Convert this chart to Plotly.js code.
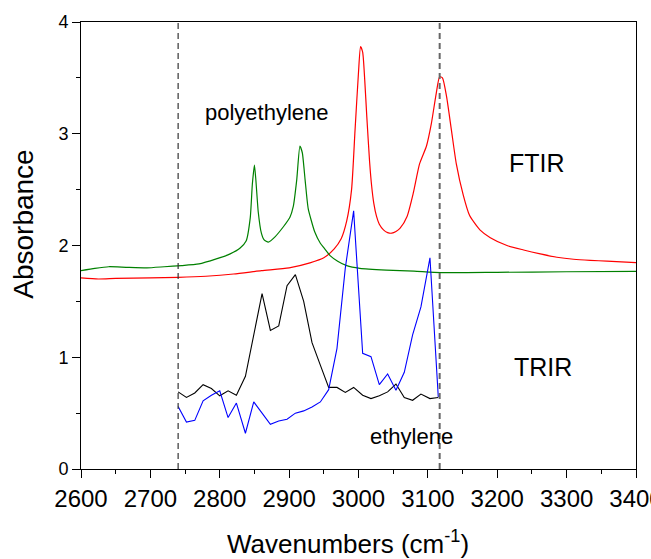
<!DOCTYPE html>
<html>
<head>
<meta charset="utf-8">
<script src="https://cdn.plot.ly/plotly-3.0.1.min.js"></script>
<style>html,body{margin:0;padding:0;background:#fff;}#chart{width:651px;height:559px;}</style>
</head>
<body>
<div id="chart"></div>
<script>
// FTIR ethylene (red)
const redX = [2600,2625,2650,2700,2740,2780,2820,2860,2900,2930,2950,2965,2975,2983,2990,2995,3000,3003,3006,3009,3012,3016,3019,3022,3026,3030,3036,3042,3048,3054,3060,3070,3079,3088,3098,3105,3112,3117,3121,3127,3134,3141,3151,3160,3175,3190,3214,3238,3262,3286,3310,3334,3358,3400];
const redY = [1.71,1.70,1.705,1.71,1.715,1.725,1.745,1.775,1.80,1.845,1.89,1.97,2.06,2.22,2.50,3.03,3.55,3.78,3.73,3.48,3.15,2.75,2.53,2.38,2.26,2.19,2.14,2.115,2.11,2.125,2.155,2.26,2.47,2.73,2.89,3.09,3.36,3.51,3.50,3.33,3.03,2.73,2.45,2.27,2.14,2.07,2.00,1.96,1.925,1.895,1.877,1.867,1.86,1.846];

// FTIR polyethylene (green)
const greenX = [2600,2620,2640,2665,2695,2720,2745,2770,2795,2815,2829,2838,2844,2847,2850,2852,2855.5,2860,2864,2870,2880,2892,2901,2906,2911,2915.5,2919,2923,2927.5,2937,2945,2950,2959,2970,2983,3002,3040,3080,3118,3200,3300,3400];
const greenY = [1.775,1.795,1.81,1.805,1.80,1.81,1.82,1.835,1.88,1.925,1.975,2.04,2.25,2.55,2.72,2.59,2.30,2.11,2.05,2.03,2.08,2.17,2.25,2.35,2.59,2.89,2.83,2.59,2.33,2.12,2.02,1.98,1.91,1.86,1.82,1.796,1.78,1.77,1.757,1.76,1.765,1.768];

// TRIR (black: polyethylene, blue: ethylene)
const trirX = [2740,2752,2764,2776,2788,2800,2812,2824,2837,2849,2861,2873,2885,2897,2909,2921,2933,2945,2957,2969,2981,2993,3006,3018,3030,3042,3054,3066,3078,3090,3103,3115];
const blackY = [0.69,0.64,0.68,0.755,0.72,0.655,0.70,0.66,0.83,1.19,1.57,1.24,1.28,1.64,1.74,1.50,1.13,0.93,0.73,0.73,0.685,0.73,0.66,0.63,0.655,0.69,0.76,0.64,0.615,0.67,0.63,0.64];
const blueY = [0.56,0.42,0.435,0.61,0.66,0.70,0.46,0.59,0.32,0.60,0.50,0.40,0.43,0.445,0.50,0.52,0.555,0.60,0.71,1.08,1.80,2.31,1.035,1.005,0.755,0.85,0.705,0.865,1.20,1.45,1.89,0.645];

const markerLinesX = [2740, 3117];
const xTicks = [2600,2700,2800,2900,3000,3100,3200,3300,3400];

const traces = [
  {x: redX, y: redY, mode: 'lines', line: {color: '#ff0000', width: 1.2, shape: 'spline', smoothing: 0.6}, hoverinfo: 'skip'},
  {x: greenX, y: greenY, mode: 'lines', line: {color: '#008000', width: 1.2, shape: 'spline', smoothing: 0.5}, hoverinfo: 'skip'},
  {x: trirX, y: blackY, mode: 'lines', line: {color: '#000000', width: 1.1}, hoverinfo: 'skip'},
  {x: trirX, y: blueY, mode: 'lines', line: {color: '#0000ff', width: 1.1}, hoverinfo: 'skip'}
];

const font = 'Liberation Sans, Arial, sans-serif';

const layout = {
  width: 651, height: 559,
  margin: {l: 81, r: 15, t: 22, b: 90},
  paper_bgcolor: '#fff', plot_bgcolor: '#fff',
  showlegend: false,
  font: {family: font, color: '#000'},
  xaxis: {
    range: [2600, 3400], tickvals: xTicks, ticktext: xTicks.map(String),
    ticklabeloverflow: 'allow',
    showgrid: false, zeroline: false,
    showline: true, linecolor: '#000', linewidth: 1, mirror: true,
    ticks: 'outside', ticklen: 8, tickwidth: 1, tickcolor: '#000',
    minor: {dtick: 50, tick0: 2600, ticks: 'outside', ticklen: 4, tickwidth: 1, tickcolor: '#000', showgrid: false},
    tickfont: {size: 24, family: font}
  },
  yaxis: {
    range: [0, 4], dtick: 1,
    showgrid: false, zeroline: false,
    showline: true, linecolor: '#000', linewidth: 1, mirror: true,
    ticks: 'outside', ticklen: 8, tickwidth: 1, tickcolor: '#000',
    minor: {dtick: 0.5, ticks: 'outside', ticklen: 4, tickwidth: 1, tickcolor: '#000', showgrid: false},
    tickfont: {size: 18, family: font}
  },
  shapes: [
    {type: 'line', xref: 'x', yref: 'paper', x0: markerLinesX[0], x1: markerLinesX[0], y0: 0, y1: 1, line: {color: '#333', width: 1.2, dash: '6px,4px'}},
    {type: 'line', xref: 'x', yref: 'paper', x0: markerLinesX[1], x1: markerLinesX[1], y0: 0, y1: 1, line: {color: '#666', width: 2, dash: '6px,4px'}}
  ],
  annotations: [
    {x: 2868, y: 3.19, text: 'polyethylene', showarrow: false, font: {size: 22, family: font}},
    {x: 3257, y: 2.74, text: 'FTIR', showarrow: false, font: {size: 25, family: font}},
    {x: 3266, y: 0.91, text: 'TRIR', showarrow: false, font: {size: 25, family: font}},
    {x: 3077, y: 0.295, text: 'ethylene', showarrow: false, font: {size: 22, family: font}},
    {xref: 'paper', yref: 'paper', x: 0.481, y: -0.165, yanchor: 'middle', text: 'Wavenumbers (cm<sup>-1</sup>)', showarrow: false, font: {size: 26, family: font}},
    {xref: 'paper', yref: 'paper', x: -0.105, y: 0.548, xanchor: 'center', yanchor: 'middle', textangle: -90, text: 'Absorbance', showarrow: false, font: {size: 28, family: font}}
  ]
};

Plotly.newPlot('chart', traces, layout, {displayModeBar: false, staticPlot: true});
</script>
</body>
</html>
